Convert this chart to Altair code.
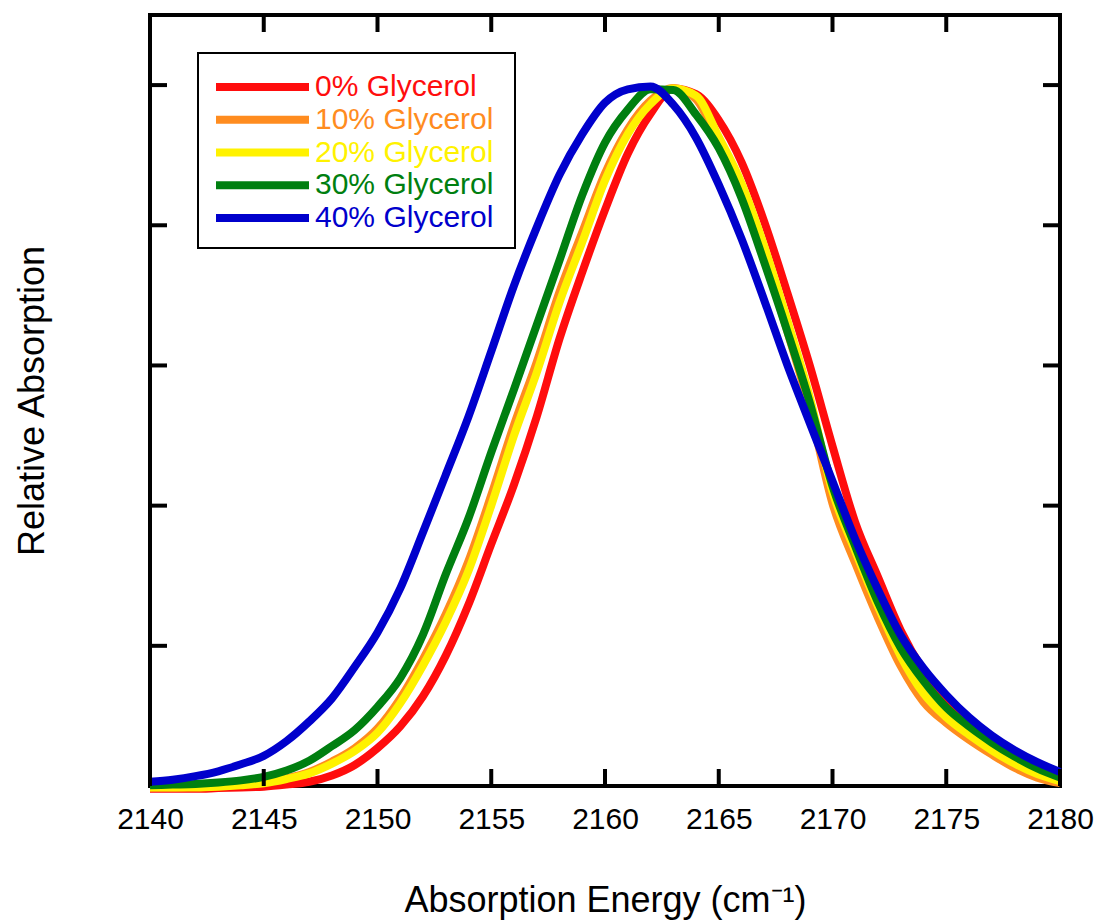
import altair as alt
import pandas as pd

# Wavenumber grid (cm^-1)
energy = list(range(2140, 2181))

# Normalised absorption of each glycerol/water mixture on that grid
glycerol_00 = [-0.004, -0.004, -0.004, -0.003, -0.002, -0.001, 0.002, 0.006, 0.015, 0.030,
               0.054, 0.085, 0.128, 0.186, 0.259, 0.345, 0.430, 0.527, 0.638, 0.733,
               0.822, 0.902, 0.959, 0.995, 0.987, 0.950, 0.890, 0.805, 0.705, 0.600,
               0.485, 0.376, 0.298, 0.222, 0.165, 0.124, 0.092, 0.066, 0.045, 0.028, 0.015]
glycerol_10 = [-0.002, -0.002, -0.001, 0.000, 0.002, 0.005, 0.011, 0.020, 0.035, 0.054,
               0.082, 0.125, 0.181, 0.245, 0.321, 0.415, 0.515, 0.605, 0.705, 0.790,
               0.874, 0.937, 0.978, 0.996, 0.980, 0.918, 0.848, 0.755, 0.650, 0.538,
               0.403, 0.318, 0.240, 0.171, 0.120, 0.090, 0.066, 0.045, 0.026, 0.012, 0.004]
glycerol_20 = [-0.002, -0.002, -0.002, -0.001, 0.001, 0.004, 0.010, 0.018, 0.032, 0.050,
               0.076, 0.118, 0.172, 0.234, 0.307, 0.400, 0.500, 0.590, 0.690, 0.776,
               0.864, 0.930, 0.973, 0.995, 0.985, 0.926, 0.860, 0.770, 0.666, 0.555,
               0.420, 0.335, 0.256, 0.185, 0.132, 0.098, 0.073, 0.051, 0.032, 0.017, 0.007]
glycerol_30 = [0.001, 0.002, 0.003, 0.005, 0.008, 0.013, 0.022, 0.036, 0.057, 0.080,
               0.113, 0.154, 0.216, 0.302, 0.382, 0.476, 0.566, 0.658, 0.750, 0.843,
               0.918, 0.965, 0.994, 0.993, 0.958, 0.910, 0.839, 0.747, 0.650, 0.547,
               0.428, 0.342, 0.262, 0.197, 0.150, 0.112, 0.085, 0.062, 0.042, 0.025, 0.012]
glycerol_40 = [0.006, 0.009, 0.014, 0.021, 0.031, 0.043, 0.064, 0.092, 0.125, 0.170,
               0.219, 0.282, 0.362, 0.444, 0.527, 0.620, 0.714, 0.797, 0.872, 0.930,
               0.975, 0.994, 0.998, 0.972, 0.925, 0.858, 0.781, 0.693, 0.602, 0.518,
               0.435, 0.352, 0.280, 0.215, 0.168, 0.130, 0.098, 0.072, 0.051, 0.034, 0.020]

series_names = ["0% Glycerol", "10% Glycerol", "20% Glycerol", "30% Glycerol", "40% Glycerol"]
series_colors = ["#ff0d0d", "#ff8c1f", "#fff200", "#007f10", "#0000cc"]

x_tick_values = [2140, 2145, 2150, 2155, 2160, 2165, 2170, 2175, 2180]
y_tick_values = [0.2, 0.4, 0.6, 0.8, 1.0]

W, H = 910, 771
TICK = 17
FONT = "Liberation Sans"

rows = []
for name, values in zip(series_names, [glycerol_00, glycerol_10, glycerol_20, glycerol_30, glycerol_40]):
    for e, v in zip(energy, values):
        rows.append({"energy": e, "absorption": v, "sample": name})
spectra = pd.DataFrame(rows)
legend_rows = pd.DataFrame({"sample": series_names})

x_scale = alt.Scale(domain=[2140, 2180], nice=False, zero=False)
y_scale = alt.Scale(domain=[0, 1.1], nice=False, zero=False)
color_scale = alt.Scale(domain=series_names, range=series_colors)

x_axis = alt.Axis(values=x_tick_values, format="d", labelFontSize=30, labelFont=FONT,
                  labelColor="black", ticks=False, domain=False, grid=False,
                  labelPadding=18, labelFlush=False,
                  title="Absorption Energy (cm⁻¹)", titleFont=FONT, titleFontSize=36,
                  titleFontWeight="normal", titleColor="black", titlePadding=49)
y_axis = alt.Axis(labels=False, ticks=False, domain=False, grid=False,
                  title="Relative Absorption", titleFont=FONT, titleFontSize=36,
                  titleFontWeight="normal", titleColor="black", titlePadding=99)

lines = alt.Chart(spectra).mark_line(strokeWidth=8, interpolate="monotone").encode(
    x=alt.X("energy:Q", scale=x_scale, axis=x_axis),
    y=alt.Y("absorption:Q", scale=y_scale, axis=y_axis),
    color=alt.Color("sample:N", scale=color_scale, legend=None),
)

x_ticks = pd.DataFrame({"energy": x_tick_values})
y_ticks = pd.DataFrame({"level": y_tick_values})
tick_style = dict(color="black", strokeWidth=4)

bottom_ticks = alt.Chart(x_ticks).mark_rule(**tick_style).encode(
    x=alt.X("energy:Q", scale=x_scale, axis=x_axis),
    y=alt.value(H), y2=alt.value(H - TICK))
top_ticks = alt.Chart(x_ticks).mark_rule(**tick_style).encode(
    x=alt.X("energy:Q", scale=x_scale, axis=x_axis),
    y=alt.value(0), y2=alt.value(TICK))
left_ticks = alt.Chart(y_ticks).mark_rule(**tick_style).encode(
    y=alt.Y("level:Q", scale=y_scale, axis=None),
    x=alt.value(0), x2=alt.value(TICK))
right_ticks = alt.Chart(y_ticks).mark_rule(**tick_style).encode(
    y=alt.Y("level:Q", scale=y_scale, axis=None),
    x=alt.value(W), x2=alt.value(W - TICK))

# Legend: framed box, one coloured stroke and coloured label per sample
legend_row_scale = alt.Scale(type="point", domain=series_names, range=[72, 203], padding=0)

legend_box = alt.Chart(legend_rows).mark_rect(
    fill="white", stroke="black", strokeWidth=2
).encode(x=alt.value(48), x2=alt.value(365), y=alt.value(38), y2=alt.value(233))
legend_strokes = alt.Chart(legend_rows).mark_rule(strokeWidth=8).encode(
    y=alt.Y("sample:N", scale=legend_row_scale, axis=None),
    x=alt.value(66), x2=alt.value(159),
    color=alt.Color("sample:N", scale=color_scale, legend=None),
)
legend_labels = alt.Chart(legend_rows).mark_text(
    align="left", baseline="middle", fontSize=30, font=FONT
).encode(
    y=alt.Y("sample:N", scale=legend_row_scale, axis=None),
    x=alt.value(165),
    text="sample:N",
    color=alt.Color("sample:N", scale=color_scale, legend=None),
)
legend = alt.layer(legend_box, legend_strokes, legend_labels)

chart = alt.layer(
    lines, bottom_ticks, top_ticks, left_ticks, right_ticks, legend
).resolve_scale(y="independent").properties(
    width=W, height=H,
    padding={"left": 150, "top": 15, "right": 39, "bottom": 137},
    autosize=alt.AutoSizeParams(type="none"),
).configure(font=FONT).configure_view(
    stroke="black", strokeWidth=4
)

chart.save("out.html", embed_options={"renderer": "svg", "actions": False})
